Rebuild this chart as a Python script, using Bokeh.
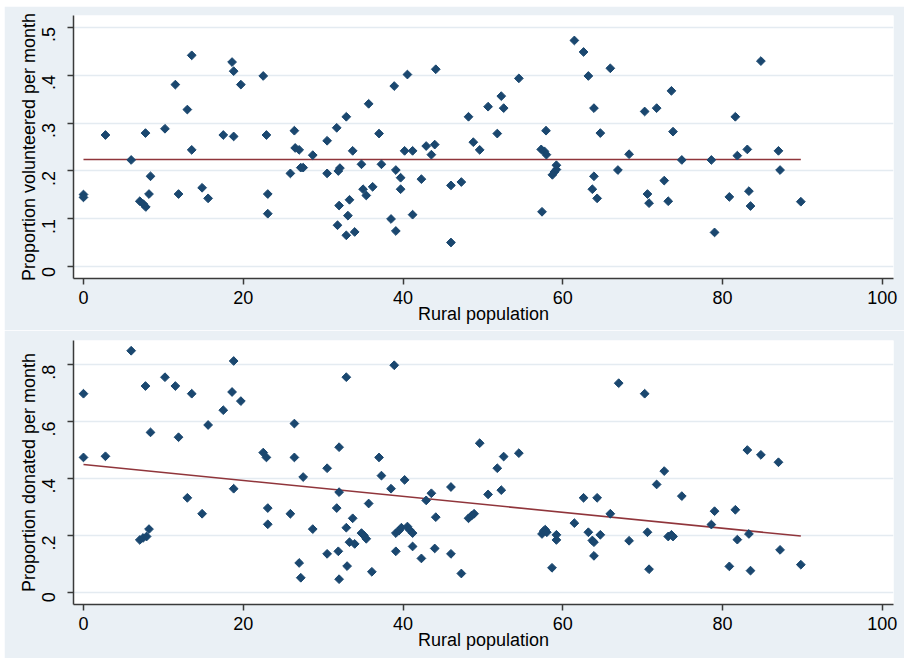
import numpy as np
from bokeh.plotting import figure
from bokeh.layouts import column, row
from bokeh.models import FixedTicker, CustomJSTickFormatter, ColumnDataSource, Spacer
from bokeh.embed import file_html
from bokeh.resources import INLINE

# ---------------- data ----------------
rural_vol = [0, 0, 2.75, 5.97, 7.05, 7.5, 7.8, 7.76, 8.39, 8.2,
             10.2, 11.5, 11.9, 13.0, 13.55, 13.55, 14.85, 15.6, 17.5, 18.6,
             18.8, 18.8, 19.7, 22.5, 22.9, 23.07, 23.07, 25.9, 26.4, 26.5,
             27.0, 27.2, 27.5, 28.7, 30.5, 30.5, 31.7, 31.9, 32.1, 32.9,
             32.0, 31.8, 32.9, 33.1, 33.3, 33.7, 33.95, 34.8, 35.0, 35.4,
             36.2, 35.7, 37.0, 37.3, 38.5, 38.9, 39.1, 39.1, 39.7, 39.7,
             40.2, 41.2, 40.55, 41.2, 42.3, 42.9, 43.55, 43.97, 44.1, 46.0,
             46.0, 47.3, 48.2, 48.8, 49.6, 50.65, 51.8, 52.3, 52.6, 54.5,
             57.4, 57.3, 57.7, 57.95, 57.9, 58.7, 58.95, 59.2, 59.2, 61.45,
             62.6, 63.2, 63.9, 63.9, 63.7, 64.3, 64.7, 65.95, 66.9, 68.3,
             70.25, 71.75, 73.6, 73.8, 74.9, 72.7, 70.6, 70.8, 73.2, 78.6,
             79.0, 80.85, 81.6, 81.85, 83.1, 83.3, 83.5, 84.8, 87.0, 87.2,
             89.8]
volunteered = [0.151, 0.145, 0.275, 0.223, 0.137, 0.131, 0.125, 0.279, 0.189, 0.152,
               0.288, 0.38, 0.152, 0.328, 0.441, 0.244, 0.165, 0.143, 0.275, 0.427,
               0.408, 0.272, 0.38, 0.398, 0.275, 0.152, 0.111, 0.195, 0.284, 0.248,
               0.244, 0.207, 0.207, 0.233, 0.263, 0.195, 0.29, 0.2, 0.206, 0.313,
               0.128, 0.087, 0.066, 0.107, 0.14, 0.242, 0.073, 0.214, 0.162, 0.149,
               0.167, 0.34, 0.278, 0.214, 0.1, 0.377, 0.202, 0.075, 0.186, 0.162,
               0.242, 0.242, 0.401, 0.109, 0.183, 0.252, 0.234, 0.255, 0.412, 0.17,
               0.051, 0.177, 0.313, 0.26, 0.244, 0.334, 0.278, 0.356, 0.331, 0.393,
               0.115, 0.245, 0.241, 0.234, 0.284, 0.192, 0.198, 0.203, 0.212, 0.472,
               0.448, 0.398, 0.331, 0.189, 0.162, 0.143, 0.279, 0.414, 0.202, 0.235,
               0.324, 0.331, 0.367, 0.282, 0.223, 0.18, 0.152, 0.133, 0.137, 0.223,
               0.072, 0.146, 0.313, 0.232, 0.245, 0.158, 0.127, 0.429, 0.242, 0.202,
               0.136]

rural_don = [0, 0, 2.75, 5.97, 7.76, 8.39, 7.05, 7.46, 7.9, 8.2,
             10.2, 11.5, 11.9, 13.0, 13.55, 14.85, 15.6, 17.5, 18.8, 18.6,
             19.7, 18.8, 22.5, 22.9, 23.07, 23.07, 25.9, 26.4, 26.4, 27.5,
             27.0, 27.2, 28.7, 30.5, 30.5, 31.7, 31.9, 32.0, 32.0, 32.0,
             32.9, 32.9, 33.3, 33.0, 33.7, 33.95, 34.8, 35.1, 35.4, 35.7,
             36.1, 37.0, 37.3, 38.5, 38.9, 39.1, 39.1, 39.5, 39.8, 40.55,
             40.8, 41.2, 40.2, 41.2, 42.3, 42.9, 43.55, 43.97, 44.1, 46.0,
             46.0, 47.3, 48.2, 48.6, 48.9, 49.6, 50.65, 51.8, 52.3, 52.6,
             54.5, 57.4, 57.6, 57.8, 58.0, 58.65, 59.2, 59.2, 61.45, 62.6,
             63.2, 63.7, 63.9, 63.9, 64.3, 64.7, 65.95, 67.0, 68.3, 70.25,
             70.6, 70.8, 71.75, 72.7, 73.2, 73.6, 73.8, 74.9, 78.6, 79.0,
             80.85, 81.6, 81.85, 83.1, 83.3, 83.5, 84.8, 87.0, 87.2, 89.8]
donated = [0.698, 0.474, 0.478, 0.849, 0.725, 0.562, 0.184, 0.191, 0.196, 0.222,
           0.756, 0.725, 0.545, 0.332, 0.698, 0.276, 0.588, 0.64, 0.813, 0.704,
           0.672, 0.364, 0.491, 0.474, 0.296, 0.239, 0.276, 0.593, 0.474, 0.405,
           0.103, 0.051, 0.222, 0.436, 0.135, 0.296, 0.144, 0.51, 0.352, 0.046,
           0.756, 0.227, 0.176, 0.092, 0.26, 0.17, 0.208, 0.2, 0.188, 0.312,
           0.072, 0.474, 0.41, 0.364, 0.798, 0.208, 0.144, 0.217, 0.227, 0.231,
           0.22, 0.208, 0.395, 0.161, 0.119, 0.323, 0.348, 0.154, 0.264, 0.37,
           0.135, 0.066, 0.26, 0.27, 0.276, 0.524, 0.344, 0.436, 0.359, 0.477,
           0.489, 0.205, 0.215, 0.22, 0.211, 0.086, 0.202, 0.184, 0.243, 0.332,
           0.211, 0.182, 0.176, 0.128, 0.332, 0.202, 0.276, 0.735, 0.181, 0.698,
           0.211, 0.081, 0.379, 0.426, 0.196, 0.202, 0.196, 0.338, 0.238, 0.285,
           0.091, 0.29, 0.185, 0.5, 0.205, 0.076, 0.483, 0.457, 0.149, 0.097]

# fitted lines (intercept, slope)
fit_vol = [0.224, 0.0]
fit_don = [0.449, -0.0028]

x_ticks = [0, 20, 40, 60, 80, 100]
vol_ticks = [0, 0.1, 0.2, 0.3, 0.4, 0.5]
don_ticks = [0, 0.2, 0.4, 0.6, 0.8]
x_title = "Rural population"
vol_title = "Proportion volunteered per month"
don_title = "Proportion donated per month"

# ---------------- styling ----------------
BG = "#eaf0f5"
NAVY = "#1a476f"
MAROON = "#90353b"
GRID = "#e4ebf1"
AXIS = "#3a3a3a"
FONT = "Liberation Sans"
FS = "18px"

fmt = CustomJSTickFormatter(code="""
var s = String(Math.round(tick * 10) / 10);
return s.replace(/^0\\./, '.');
""")


def panel(xs, ys, fit, yticks, yrange, ytitle, height, btop, bbottom):
    p = figure(width=900, height=height, x_range=(-1.25, 101.4), y_range=yrange,
               output_backend="svg", toolbar_location=None,
               background_fill_color="white", border_fill_color=BG,
               min_border_left=69, min_border_right=11,
               min_border_top=btop, min_border_bottom=bbottom,
               outline_line_color=None)
    p.xgrid.visible = False
    p.ygrid.grid_line_color = GRID
    p.ygrid.grid_line_width = 1.5

    p.xaxis.ticker = FixedTicker(ticks=x_ticks)
    p.yaxis.ticker = FixedTicker(ticks=yticks)
    p.yaxis.formatter = fmt
    p.yaxis.major_label_orientation = np.pi / 2
    for ax in (p.xaxis, p.yaxis):
        ax.axis_line_color = AXIS
        ax.axis_line_width = 1.5
        ax.major_tick_line_color = AXIS
        ax.major_tick_line_width = 1.5
        ax.major_tick_in = 0
        ax.major_tick_out = 6
        ax.minor_tick_line_color = None
        ax.major_label_text_font = FONT
        ax.major_label_text_font_size = FS
        ax.major_label_text_color = "black"
        ax.axis_label_text_font = FONT
        ax.axis_label_text_font_size = FS
        ax.axis_label_text_font_style = "normal"
        ax.axis_label_text_color = "black"
    p.xaxis.axis_label = x_title
    p.yaxis.axis_label = ytitle
    p.xaxis.major_label_standoff = 6
    p.xaxis.axis_label_standoff = -3
    p.yaxis.major_label_standoff = 19
    p.yaxis.axis_label_standoff = -6

    xs_arr = np.array(xs)
    fx = np.array([xs_arr.min(), xs_arr.max()])
    fy = fit[0] + fit[1] * fx
    p.line(fx, fy, line_color=MAROON, line_width=1.6)

    src = ColumnDataSource(dict(x=xs, y=ys))
    p.scatter("x", "y", source=src, marker="square", angle=np.pi / 4, size=6.2,
              fill_color=NAVY, line_color=NAVY, line_width=1)
    return p


top = panel(rural_vol, volunteered, fit_vol, vol_ticks, (-0.024, 0.524), vol_title,
            324, 9, 52)
bottom = panel(rural_don, donated, fit_don, don_ticks, (-0.043, 0.885), don_title,
               328, 10, 54)

layout = column(Spacer(height=6),
                row(Spacer(width=4), column(top, bottom, spacing=0), spacing=0),
                spacing=0)
open("out.html", "w").write(file_html(layout, INLINE))
